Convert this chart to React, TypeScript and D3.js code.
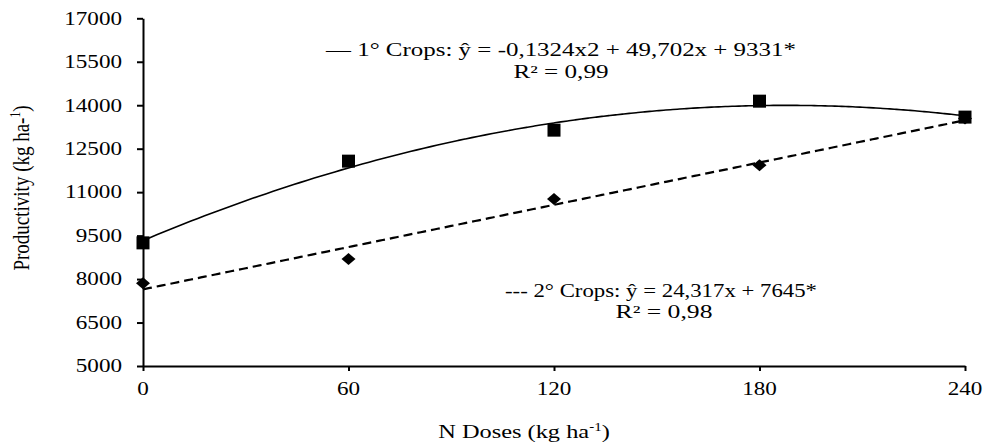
import React, { useEffect, useRef } from 'react';
import * as d3 from 'd3';

// N doses (kg/ha) and productivity (kg/ha) for each crop
const doses = [0, 60, 120, 180, 240];
const crop1 = [9250, 12070, 13140, 14140, 13590];
const crop2 = [7860, 8690, 10760, 11930, 13540];
const yTicks = [5000, 6500, 8000, 9500, 11000, 12500, 14000, 15500, 17000];
const xTicks = [0, 60, 120, 180, 240];
// regression coefficients shown in the labels
const fit1 = [-0.1324, 49.702, 9331];
const fit2 = [24.317, 7645];

const W = 986;
const H = 442;
const SX = 1.25; // the original picture is stretched sideways
const FONT = '"Liberation Serif", "Times New Roman", serif';

const App = () => {
  const ref = useRef<SVGSVGElement | null>(null);

  useEffect(() => {
    const svg = d3.select(ref.current);
    svg.selectAll('*').remove();

    const x = d3.scaleLinear().domain([0, 240]).range([143, 965]);
    const y = d3.scaleLinear().domain([5000, 17000]).range([366, 18.3]);

    const text = (px: number, py: number, str: string, anchor: string, size: number, len?: number) => {
      const t = svg
        .append('text')
        .attr('transform', `translate(${px},${py}) scale(${SX},1)`)
        .attr('text-anchor', anchor)
        .attr('font-family', FONT)
        .attr('font-size', size)
        .attr('fill', '#000')
        .text(str);
      if (len) t.attr('textLength', len / SX).attr('lengthAdjust', 'spacingAndGlyphs');
      return t;
    };

    // axes
    const yAxis = svg
      .append('g')
      .attr('transform', `translate(${x(0)},0)`)
      .call(d3.axisLeft(y).tickValues(yTicks).tickSize(6).tickSizeOuter(0).tickFormat(() => ''));
    const xAxis = svg
      .append('g')
      .attr('transform', `translate(0,${y(5000)})`)
      .call(d3.axisBottom(x).tickValues(xTicks).tickSize(5).tickSizeOuter(0).tickFormat(() => ''));
    [yAxis, xAxis].forEach((a) => {
      a.selectAll('path, line').attr('stroke', '#000').attr('stroke-width', 2);
    });

    yTicks.forEach((t) => text(122, y(t) + 6.3, String(t), 'end', 18.5));
    xTicks.forEach((t) => text(x(t), 395, String(t), 'middle', 18.5));

    // axis titles
    const xt = svg
      .append('text')
      .attr('transform', `translate(524,438) scale(${SX},1)`)
      .attr('text-anchor', 'middle')
      .attr('font-family', FONT)
      .attr('font-size', 19.5);
    xt.append('tspan').text('N Doses (kg ha');
    xt.append('tspan').attr('font-size', 12).attr('dy', -7).text('-1');
    xt.append('tspan').attr('dy', 7).text(')');

    const yt = svg
      .append('text')
      .attr('transform', `translate(29,188) scale(${SX},1) rotate(-90)`)
      .attr('text-anchor', 'middle')
      .attr('font-family', FONT)
      .attr('font-size', 19);
    yt.append('tspan').text('Productivity (kg ha-');
    yt.append('tspan').attr('font-size', 11.5).attr('dy', -7).text('1');
    yt.append('tspan').attr('dy', 7).text(')');

    // trend lines
    const xs = d3.range(0, 241, 2);
    const line = d3
      .line<number[]>()
      .x((d) => x(d[0]))
      .y((d) => y(d[1]))
      .curve(d3.curveMonotoneX);

    svg
      .append('path')
      .datum(xs.map((v) => [v, fit1[0] * v * v + fit1[1] * v + fit1[2]]))
      .attr('d', line)
      .attr('fill', 'none')
      .attr('stroke', '#000')
      .attr('stroke-width', 1.6);

    svg
      .append('path')
      .datum(xs.map((v) => [v, fit2[0] * v + fit2[1]]))
      .attr('d', line)
      .attr('fill', 'none')
      .attr('stroke', '#000')
      .attr('stroke-width', 2.2)
      .attr('stroke-dasharray', '9,5');

    // markers: diamonds for crop 2, squares for crop 1
    svg
      .append('g')
      .selectAll('path')
      .data(doses)
      .join('path')
      .attr('d', (d, i) => {
        const cx = x(d);
        const cy = y(crop2[i]);
        return `M${cx},${cy - 6}L${cx + 7},${cy}L${cx},${cy + 6}L${cx - 7},${cy}Z`;
      })
      .attr('fill', '#000');

    svg
      .append('g')
      .selectAll('rect')
      .data(doses)
      .join('rect')
      .attr('x', (d) => x(d) - 6.5)
      .attr('y', (d, i) => y(crop1[i]) - 6.5)
      .attr('width', 13)
      .attr('height', 13)
      .attr('fill', '#000');

    // equation labels
    text(326, 56, '— 1° Crops: ŷ = -0,1324x2 + 49,702x + 9331*', 'start', 18.5, 470);
    text(561, 78, 'R² = 0,99', 'middle', 18.5, 95);
    text(505, 297, '--- 2° Crops: ŷ = 24,317x + 7645*', 'start', 18.5, 312);
    text(664, 318, 'R² = 0,98', 'middle', 18.5, 97);
  }, []);

  return (
    <svg
      ref={ref}
      width={W}
      height={H}
      style={{ position: 'absolute', left: 0, top: 0, background: '#fff' }}
    />
  );
};

export default App;
